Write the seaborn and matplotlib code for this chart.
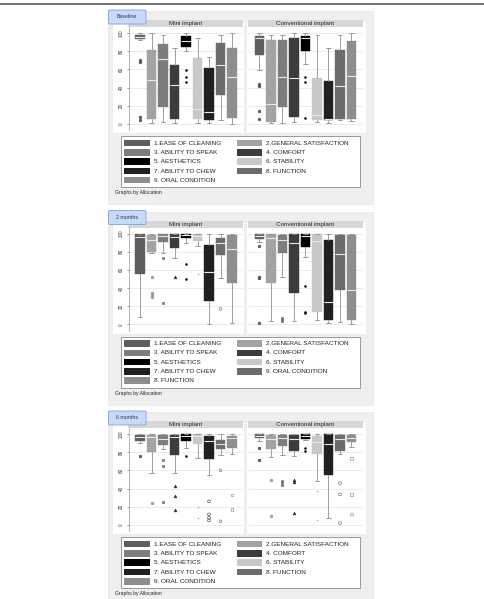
import matplotlib
matplotlib.use("Agg")
import matplotlib.pyplot as plt
from matplotlib.patches import Rectangle, FancyBboxPatch
import pandas as pd
import seaborn as sns

# ---------------- data ----------------
items = ["1.EASE OF CLEANING", "2.GENERAL SATISFACTION", "3. ABILITY TO SPEAK",
         "4. COMFORT", "5. AESTHETICS", "6. STABILITY", "7. ABILITY TO CHEW",
         "8. FUNCTION", "9. ORAL CONDITION"]
items_2m = ["1.EASE OF CLEANING", "2.GENERAL SATISFACTION", "3. ABILITY TO SPEAK",
            "4. COMFORT", "5. AESTHETICS", "6. STABILITY", "7. ABILITY TO CHEW",
            "9. ORAL CONDITION", "8. FUNCTION"]
panel_titles = ["Baseline", "2 months", "6 months"]
facets = ["Mini implant", "Conventional implant"]
yticks = [0, 20, 40, 60, 80, 100]
note = "Graphs by Allocation"

# Baseline
base_mini_lo = [92.7, 1, 2, 1, 80, 1, 1, 4, 0]
base_mini_q1 = [93.4, 5, 19, 5.5, 85, 5.5, 4, 32, 6.5]
base_mini_med = [95.6, 48, 71, 43, 91, 16, 13.5, 65, 52]
base_mini_q3 = [97.8, 81, 88, 65, 97, 72.5, 61, 89, 84]
base_mini_hi = [100, 100, 98, 83.5, 100, 94, 74, 98, 100]
base_mini_out = [[70, 68.5, 8, 4], [], [], [], [59, 52, 46], [], [], [], []]

base_conv_lo = [59, 1, 1, 2, 66, 2, 1, 4, 3.7]
base_conv_q1 = [76, 2.5, 18.7, 8, 80.5, 4.8, 4.8, 6, 5.5]
base_conv_med = [94.5, 22, 51.6, 50, 94, 9.5, 6, 42, 53]
base_conv_q3 = [97, 92.7, 92.7, 95, 97, 50, 47.6, 81, 91]
base_conv_hi = [100, 98, 98, 100, 100, 98, 83, 98, 100]
base_conv_out = [[44, 41.5, 14, 6], [], [], [], [51.6, 46, 6.6], [], [], [], []]

# 2 months
m2_mini_lo = [8, 79, 79, 73, 90, 86.5, 1, 51, 2]
m2_mini_q1 = [55, 80, 90.6, 84.6, 95, 91.4, 26, 76, 46]
m2_mini_med = [96, 92.5, 97, 96, 98, 97, 57.5, 90, 83]
m2_mini_q3 = [99, 98, 100, 100, 100, 99, 87, 95, 98]
m2_mini_hi = [100, 100, 100, 100, 100, 100, 100, 100, 100]
m2_mini_out = [[], [52.6, 34.6, 32.3, 30], [73, 24], [52], [66, 50], [55.6], [], [17], []]

m2_conv_lo = [90.6, 4, 52, 4, 74, 5, 2, 3, 0]
m2_conv_q1 = [94.4, 46, 79, 35, 85.7, 14, 5, 37.6, 5]
m2_conv_med = [97, 95, 93, 89.5, 97, 92, 25, 77, 37.6]
m2_conv_q3 = [99, 100, 98, 100, 99, 99, 93, 98, 98]
m2_conv_hi = [100, 100, 100, 100, 100, 100, 100, 100, 100]
m2_conv_out = [[86.5, 52, 51, 2], [], [7, 5, 3.5], [], [42.5, 14, 12.4], [], [], [], []]

# 6 months
m6_mini_lo = [90, 57, 84, 57, 85, 74, 55, 76.5, 77.6]
m6_mini_q1 = [92.5, 80.6, 88, 77, 92.5, 89.5, 73, 83, 85]
m6_mini_med = [97, 97, 95, 97, 98, 97.4, 92.5, 89.5, 96]
m6_mini_q3 = [99, 99, 99, 99, 100, 100, 98, 93, 98]
m6_mini_hi = [100, 100, 100, 100, 100, 100, 100, 100, 100]
m6_mini_out = [[76], [24], [71, 64.5, 25], [43, 32, 16], [76], [20, 7.5],
               [26, 11.6, 8, 5], [60, 4], [33, 17]]

m6_conv_lo = [92.5, 75, 76.5, 76, 93, 48.5, 7.5, 78, 86]
m6_conv_q1 = [96, 84, 87, 81, 94.4, 77.6, 54.5, 81, 90.7]
m6_conv_med = [98, 94.4, 96, 94.4, 98, 90.7, 89, 94.4, 96]
m6_conv_q3 = [100, 98.5, 99, 99, 100, 98, 100, 99, 99]
m6_conv_hi = [100, 100, 100, 100, 100, 100, 100, 100, 100]
m6_conv_out = [[85, 71], [49.6, 10.4], [48, 46, 44], [49.6, 47, 13], [85, 81],
               [37.7, 5], [], [46, 33.6, 2], [73, 33.6, 12.3]]

panels = [
    (items, [(base_mini_lo, base_mini_q1, base_mini_med, base_mini_q3, base_mini_hi, base_mini_out),
             (base_conv_lo, base_conv_q1, base_conv_med, base_conv_q3, base_conv_hi, base_conv_out)]),
    (items_2m, [(m2_mini_lo, m2_mini_q1, m2_mini_med, m2_mini_q3, m2_mini_hi, m2_mini_out),
                (m2_conv_lo, m2_conv_q1, m2_conv_med, m2_conv_q3, m2_conv_hi, m2_conv_out)]),
    (items, [(m6_mini_lo, m6_mini_q1, m6_mini_med, m6_mini_q3, m6_mini_hi, m6_mini_out),
             (m6_conv_lo, m6_conv_q1, m6_conv_med, m6_conv_q3, m6_conv_hi, m6_conv_out)]),
]

# ---------------- style ----------------
sns.set_theme(style="white")
plt.rcParams['font.family'] = ['Liberation Sans', 'DejaVu Sans']

box_colors = ['#5e5e5e', '#a3a3a3', '#7d7d7d', '#3c3c3c', '#000000',
              '#c8c8c8', '#202020', '#6c6c6c', '#8e8e8e']
# (marker, size, face, edge)
flier_styles = [('o', 3.5, '#555555', '#555555'),
                ('o', 3.5, '#9a9a9a', '#9a9a9a'),
                ('s', 3.0, '#777777', '#777777'),
                ('^', 3.5, '#2e2e2e', '#2e2e2e'),
                ('o', 1.6, '#111111', '#111111'),
                ('+', 4.0, '#b8b8b8', '#b8b8b8'),
                ('o', 4.0, 'none', '#555555'),
                ('o', 4.0, 'none', '#7a7a7a'),
                ('s', 3.5, 'none', '#9a9a9a')]

W, H = 485, 599
fig = plt.figure(figsize=(W / 100, H / 100), dpi=100)
bg = fig.add_axes([0, 0, 1, 1])
bg.set_xlim(0, W)
bg.set_ylim(H, 0)
bg.axis('off')


def fax(x0, y0, x1, y1):
    return fig.add_axes([x0 / W, 1 - y1 / H, (x1 - x0) / W, (y1 - y0) / H])


bg.plot([0, W], [3.5, 3.5], color='#5a5a5a', lw=1.2, solid_capstyle='butt')

offsets = [0, 200.5, 401]
facet_x = [(128.5, 243.5), (248, 363)]
white_x = [(112, 244.5), (246.5, 366)]

for p, (off, title, (labels, facet_data)) in enumerate(zip(offsets, panel_titles, panels)):
    # panel background
    bg.add_patch(Rectangle((108, 11 + off), 265, 193, fc='#efefef', ec='#e6e6e6', lw=0.5))
    for (wx0, wx1) in white_x:
        bg.add_patch(Rectangle((wx0, 20 + off), wx1 - wx0, 113, fc='white', ec='#e8e8e8', lw=0.4))
    for (fx0, fx1), fname in zip(facet_x, facets):
        bg.add_patch(Rectangle((fx0, 20 + off), fx1 - fx0, 7, fc='#d7d7d7', ec='none'))
        bg.text((fx0 + fx1) / 2, 23.6 + off, fname, fontsize=4.5, ha='center', va='center',
                color='#222222')
    # tab
    bg.add_patch(FancyBboxPatch((108.5, 10 + off), 37.5, 14,
                                boxstyle="round,pad=0,rounding_size=1.5",
                                fc='#c8daf8', ec='#7c9fe0', lw=0.6))
    bg.text(127.2, 16.8 + off, title, fontsize=3.8, ha='center', va='center', color='#2a3350')

    # legend
    bg.add_patch(Rectangle((121.5, 136 + off), 239, 51, fc='white', ec='#8a8a8a', lw=0.6))
    for i, lab in enumerate(labels):
        row, col = i // 2, i % 2
        cy = 136 + off + 7 + row * 9.3
        sx, tx = (124.5, 154) if col == 0 else (237, 266.5)
        bg.add_patch(Rectangle((sx, cy - 3.3), 25.5, 6.6, fc=box_colors[i], ec='none'))
        bg.text(tx, cy + 0.2, lab, fontsize=4.6, ha='left', va='center', color='#222222')
    bg.text(115, 192.5 + off, note, fontsize=3.6, ha='left', va='center', color='#222222')

    # facets
    for f, ((fx0, fx1), (lo, q1, med, q3, hi, outs)) in enumerate(zip(facet_x, facet_data)):
        ax = fax(fx0, 27 + off, fx1, 130 + off)
        ax.set_facecolor('white')
        ax.set_xlim(0, 10)
        ax.set_ylim(-6.6, 106.6)
        ax.set_yticks(yticks)
        ax.set_xticks([])
        ax.yaxis.grid(True, color='#e4e4e4', lw=0.5)
        ax.set_axisbelow(True)
        for s in ax.spines.values():
            s.set_visible(False)
        if f == 0:
            ax.spines['left'].set_visible(True)
            ax.spines['left'].set_color('#9a9a9a')
            ax.spines['left'].set_linewidth(0.5)
            ax.tick_params(axis='y', length=1.6, width=0.4, color='#555555', pad=1.8,
                           labelsize=3.3, labelcolor='#333333', left=True)
            ax.set_yticklabels([str(t) for t in yticks], rotation=90, va='center')
        else:
            ax.tick_params(axis='y', length=0, labelleft=False)

        for i in range(9):
            stats = [dict(med=med[i], q1=q1[i], q3=q3[i], whislo=lo[i], whishi=hi[i], fliers=[])]
            ax.bxp(stats, positions=[i + 1], widths=0.8, patch_artist=True, showfliers=False,
                   manage_ticks=False, capwidths=0.4,
                   boxprops=dict(facecolor=box_colors[i], edgecolor=box_colors[i], lw=0.3),
                   medianprops=dict(color='#e9e9e9', lw=0.8, solid_capstyle='butt'),
                   whiskerprops=dict(color='#8f8f8f', lw=0.6),
                   capprops=dict(color='#8f8f8f', lw=0.6))

        rows = [(i + 1, v, i) for i in range(9) for v in outs[i]]
        df = pd.DataFrame(rows, columns=['pos', 'value', 'item'])
        for i in range(9):
            sub = df[df['item'] == i]
            if sub.empty:
                continue
            mk, sz, fcol, ecol = flier_styles[i]
            kw = dict(marker=mk, s=sz, linewidth=0.5)
            if mk == '+':
                kw.update(color=ecol)
            else:
                kw.update(color=ecol, facecolor=fcol, edgecolor=ecol)
            sns.scatterplot(data=sub, x='pos', y='value', ax=ax, legend=False, zorder=3, **kw)
        ax.set_xlabel('')
        ax.set_ylabel('')
        ax.set_xlim(0, 10)
        ax.set_ylim(-6.6, 106.6)

fig.savefig('out.png', dpi=100)
